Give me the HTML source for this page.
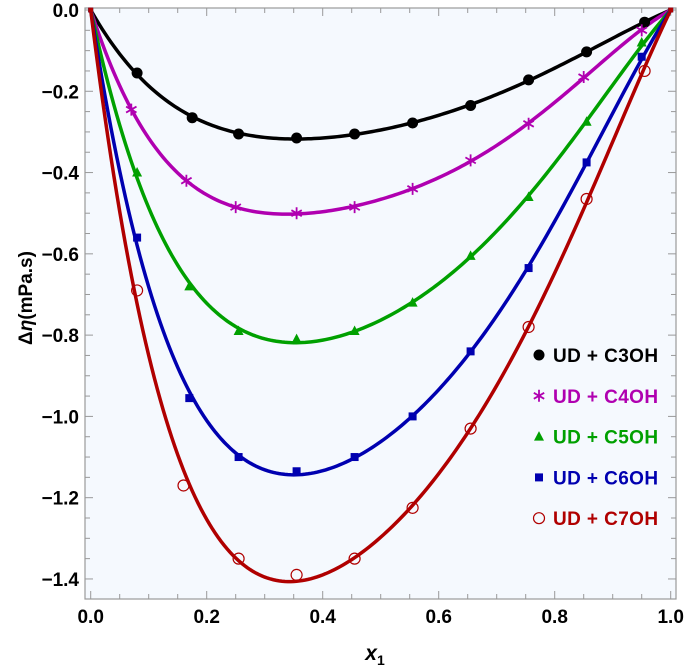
<!DOCTYPE html>
<html><head><meta charset="utf-8"><style>
body{margin:0;background:#fff;}
svg{display:block;font-family:"Liberation Sans",Arial,sans-serif;}
</style></head><body>
<svg id="chart" width="685" height="668" viewBox="0 0 685 668">
<rect x="85" y="8" width="591" height="591" fill="#f5f9fe" stroke="#999" stroke-width="1.2"/>
<g id="ticks"></g>
<g id="curves"></g>
<g id="marks"></g>
<g id="legend"></g>
<text x="32" y="298" transform="rotate(-90 32 298)" text-anchor="middle" font-size="19" font-weight="bold">Δ<tspan font-style="italic">η</tspan>(mPa.s)</text>
<text x="375" y="660" text-anchor="middle" font-size="21" font-weight="bold" font-style="italic">x<tspan font-size="14" dy="5" font-style="normal">1</tspan></text>
</svg>
<script>
const xTicks=[0,0.2,0.4,0.6,0.8,1.0];
const xTickLabels=["0.0","0.2","0.4","0.6","0.8","1.0"];
const yTicks=[0,-0.2,-0.4,-0.6,-0.8,-1.0,-1.2,-1.4];
const yTickLabels=["0.0","\u22120.2","\u22120.4","\u22120.6","\u22120.8","\u22121.0","\u22121.2","\u22121.4"];
const seriesNames=["UD + C3OH","UD + C4OH","UD + C5OH","UD + C6OH","UD + C7OH"];
const x3=[0,0.08,0.175,0.255,0.355,0.455,0.555,0.655,0.755,0.855,0.955,1.0];
const y3=[0,-0.155,-0.265,-0.305,-0.315,-0.305,-0.278,-0.235,-0.172,-0.103,-0.03,0];
const x4=[0,0.07,0.165,0.25,0.355,0.455,0.555,0.655,0.755,0.85,0.95,1.0];
const y4=[0,-0.245,-0.42,-0.485,-0.5,-0.485,-0.44,-0.37,-0.28,-0.165,-0.05,0];
const x5=[0,0.08,0.17,0.255,0.355,0.455,0.555,0.655,0.755,0.855,0.95,1.0];
const y5=[0,-0.40,-0.68,-0.79,-0.81,-0.79,-0.72,-0.605,-0.46,-0.275,-0.08,0];
const x6=[0,0.08,0.17,0.255,0.355,0.455,0.555,0.655,0.755,0.855,0.95,1.0];
const y6=[0,-0.56,-0.955,-1.10,-1.135,-1.10,-1.0,-0.84,-0.635,-0.375,-0.115,0];
const x7=[0,0.08,0.16,0.255,0.355,0.455,0.555,0.655,0.755,0.855,0.955,1.0];
const y7=[0,-0.69,-1.17,-1.35,-1.39,-1.35,-1.225,-1.03,-0.78,-0.465,-0.15,0];
const colors=["#000000","#b000b0","#00a000","#0000b0","#b00000"];
const shapes=["dot","star","tri","sq","circ"];
const NS="http://www.w3.org/2000/svg";
const X0=90.7,XS=580,Y0=10,YS=406.4;
function sx(v){return X0+v*XS;}
function sy(v){return Y0-v*YS;}
function mk(tag,attrs,parent){const e=document.createElementNS(NS,tag);for(const k in attrs)e.setAttribute(k,attrs[k]);parent.appendChild(e);return e;}
const T=document.getElementById('ticks');
for(let i=0;i<=20;i++){const v=i*0.05;const L=(i%4===0)?8:5;
 const t1=mk('line',{x1:sx(v),x2:sx(v),y1:599,y2:599-L,stroke:'#999','stroke-width':1},T);
 
 const t2=mk('line',{x1:sx(v),x2:sx(v),y1:8,y2:8+L,stroke:'#999','stroke-width':1},T);
 }
for(let i=0;i<=29;i++){const v=-i*0.05;if(sy(v)>599)break;const L=(i%4===0)?8:5;
 const t1=mk('line',{x1:85,x2:85+L,y1:sy(v),y2:sy(v),stroke:'#999','stroke-width':1},T);
 
 const t2=mk('line',{x1:676,x2:676-L,y1:sy(v),y2:sy(v),stroke:'#999','stroke-width':1},T);
 }
xTicks.forEach((v,i)=>{const t=mk('text',{x:sx(v),y:623,'text-anchor':'middle','font-size':19,'font-weight':'bold'},T);t.textContent=xTickLabels[i];
 });
yTicks.forEach((v,i)=>{const t=mk('text',{x:79,y:sy(v)+7,'text-anchor':'end','font-size':19,'font-weight':'bold'},T);t.textContent=yTickLabels[i];
 });
function fit(xs,ys){const n=4;const A=[...Array(n)].map(()=>Array(n+1).fill(0));
 xs.forEach((x,j)=>{const b=[];const w=x*(1-x);for(let k=0;k<n;k++)b.push(w*Math.pow(2*x-1,k));
  for(let r=0;r<n;r++){for(let c=0;c<n;c++)A[r][c]+=b[r]*b[c];A[r][n]+=b[r]*ys[j];}});
 for(let i=0;i<n;i++){let p=i;for(let r=i+1;r<n;r++)if(Math.abs(A[r][i])>Math.abs(A[p][i]))p=r;[A[i],A[p]]=[A[p],A[i]];
  for(let r=0;r<n;r++){if(r===i)continue;const f=A[r][i]/A[i][i];for(let c=i;c<=n;c++)A[r][c]-=f*A[i][c];}}
 return A.map((row,i)=>row[n]/row[i]);}
function marker(shape,x,y,col,parent,s){s=s||1;let e;
 if(shape==='dot')e=mk('circle',{cx:x,cy:y,r:5.5*s,fill:col},parent);
 else if(shape==='circ')e=mk('circle',{cx:x,cy:y,r:5.5*s,fill:'none',stroke:col,'stroke-width':1.2},parent);
 else if(shape==='sq')e=mk('rect',{x:x-4*s,y:y-4*s,width:8*s,height:8*s,fill:col},parent);
 else if(shape==='tri')e=mk('polygon',{points:`${x},${y-5.5*s} ${x-5*s},${y+4*s} ${x+5*s},${y+4*s}`,fill:col},parent);
 else{let d='';for(let k=0;k<3;k++){const a=Math.PI/2+k*Math.PI/3;d+=`M${x+6*s*Math.cos(a)},${y-6*s*Math.sin(a)}L${x-6*s*Math.cos(a)},${y+6*s*Math.sin(a)}`;}
  e=mk('path',{d:d,stroke:col,'stroke-width':1.8,fill:'none'},parent);}
 return e;}
const XS_=[x3,x4,x5,x6,x7],YS_=[y3,y4,y5,y6,y7];
const C=document.getElementById('curves'),M=document.getElementById('marks'),LG=document.getElementById('legend');
XS_.forEach((xs,si)=>{const a=fit(xs,YS_[si]);let d='';
 for(let i=0;i<=200;i++){const x=i/200;let s=0;for(let k=0;k<a.length;k++)s+=a[k]*Math.pow(2*x-1,k);d+=(i?'L':'M')+sx(x).toFixed(2)+','+sy(x*(1-x)*s).toFixed(2);}
 const p=mk('path',{d:d,fill:'none',stroke:colors[si],'stroke-width':3.5},C);
 });
XS_.forEach((xs,si)=>{xs.forEach((x,j)=>{const end=(x===0||x===1);
 const e=end?marker('sq',sx(x),sy(YS_[si][j]),colors[si],M,0.6):marker(shapes[si],sx(x),sy(YS_[si][j]),colors[si],M);
 });});
seriesNames.forEach((n,i)=>{const y=355+i*40.8;
 const e=marker(shapes[i],539,y,colors[i],LG);
 
 const t=mk('text',{x:553,y:y+7,'font-size':19,'font-weight':'bold','letter-spacing':'0.4',fill:colors[i]},LG);t.textContent=n;
 });
</script>
</body></html>
